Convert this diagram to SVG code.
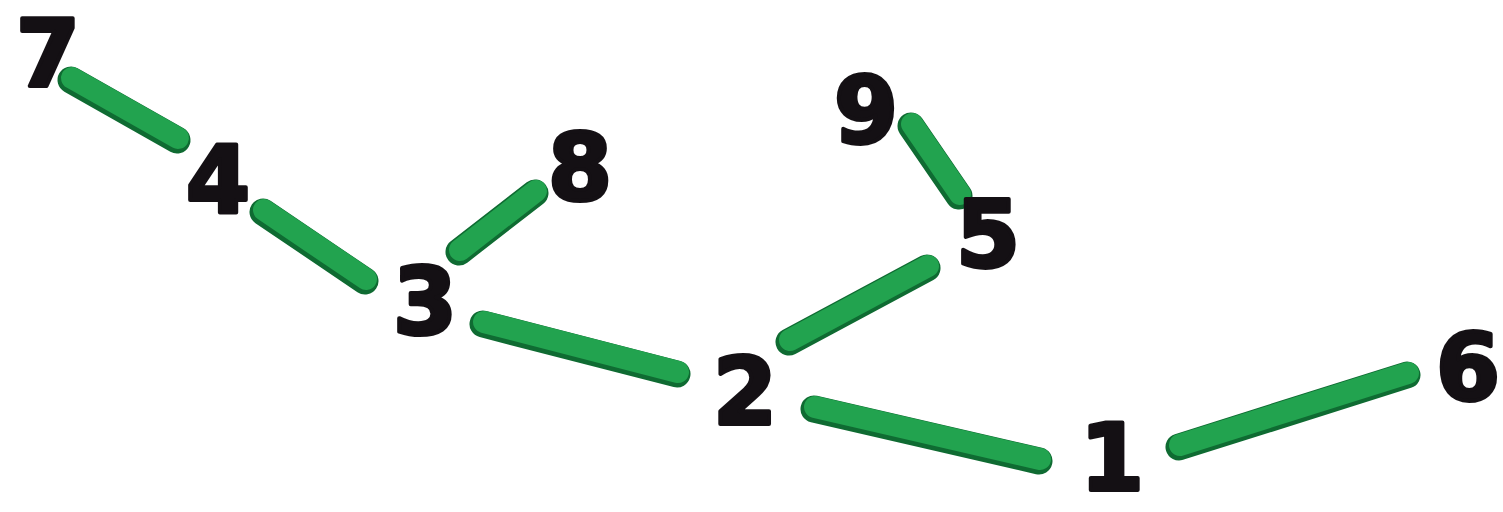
<svg xmlns="http://www.w3.org/2000/svg" width="1503" height="512" viewBox="0 0 1503 512">
  <defs>
    <style>
      .bar-edge { stroke: #0f6b32; stroke-width: 27; stroke-linecap: round; fill: none; }
      .bar { stroke: #22a34f; stroke-width: 22; stroke-linecap: round; fill: none; }
      .num { font-family: "DejaVu Sans", "Liberation Sans", sans-serif; font-weight: bold; font-size: 92px; fill: #141014; stroke: #141014; stroke-width: 4; stroke-linejoin: round; text-anchor: middle; }
    </style>
  </defs>
  <rect width="1503" height="512" fill="#ffffff"/>
  <g id="connectors">
    <g transform="translate(-1,2)">
      <line class="bar-edge" x1="72" y1="78" x2="178" y2="138"/>
      <line class="bar-edge" x1="264" y1="210" x2="366" y2="279"/>
      <line class="bar-edge" x1="460" y1="250" x2="536" y2="191"/>
      <line class="bar-edge" x1="484" y1="322" x2="678" y2="372"/>
      <line class="bar-edge" x1="912" y1="124" x2="960" y2="194"/>
      <line class="bar-edge" x1="790" y1="340" x2="928" y2="266"/>
      <line class="bar-edge" x1="815" y1="407" x2="1040" y2="459"/>
      <line class="bar-edge" x1="1180" y1="445" x2="1408" y2="373"/>
    </g>
    <line class="bar" x1="72" y1="78" x2="178" y2="138"/>
    <line class="bar" x1="264" y1="210" x2="366" y2="279"/>
    <line class="bar" x1="460" y1="250" x2="536" y2="191"/>
    <line class="bar" x1="484" y1="322" x2="678" y2="372"/>
    <line class="bar" x1="912" y1="124" x2="960" y2="194"/>
    <line class="bar" x1="790" y1="340" x2="928" y2="266"/>
    <line class="bar" x1="815" y1="407" x2="1040" y2="459"/>
    <line class="bar" x1="1180" y1="445" x2="1408" y2="373"/>
  </g>
  <g id="node-7"><text class="num" x="48" y="86">7</text></g>
  <g id="node-4"><text class="num" x="218" y="212">4</text></g>
  <g id="node-8"><text class="num" x="580" y="200">8</text></g>
  <g id="node-3"><text class="num" x="425" y="334">3</text></g>
  <g id="node-9"><text class="num" x="866" y="143">9</text></g>
  <g id="node-5"><text class="num" x="988" y="267">5</text></g>
  <g id="node-2"><text class="num" x="745" y="424">2</text></g>
  <g id="node-1"><text class="num" x="1112" y="490">1</text></g>
  <g id="node-6"><text class="num" x="1468" y="400">6</text></g>
</svg>
